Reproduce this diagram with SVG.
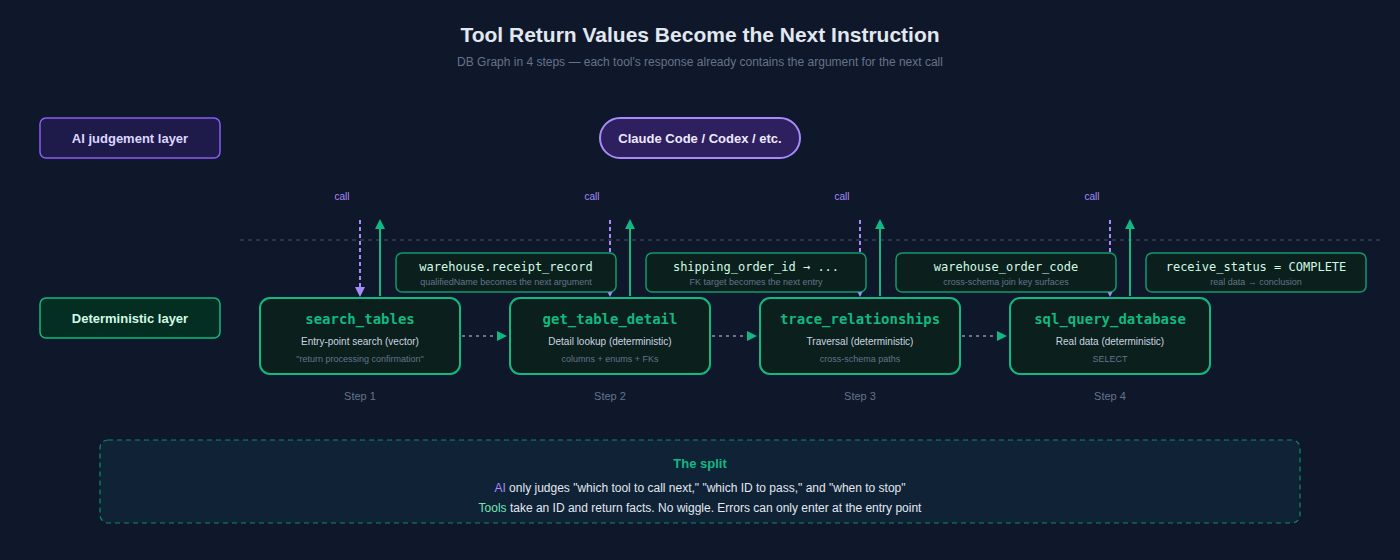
<svg xmlns="http://www.w3.org/2000/svg" width="1400" height="560" viewBox="0 0 1400 560">
<style>
.t{font-family:"Liberation Sans",Arial,sans-serif}
.m{font-family:"DejaVu Sans Mono","Liberation Mono",monospace}
.step{fill:#0b1f1c;stroke:#10b981;stroke-width:2}
.ret{fill:#0b1f1c;stroke:#10b981;stroke-width:1.5;stroke-opacity:.8}
.call{stroke:#a78bfa;stroke-width:2;stroke-dasharray:4 3;fill:none}
.up{stroke:#10b981;stroke-width:2;fill:none}
.flow{stroke:#64748b;stroke-width:2;stroke-dasharray:3 4;fill:none}
</style>
<defs>
<marker id="ap" markerWidth="10" markerHeight="10" refX="5" refY="5" orient="auto" markerUnits="userSpaceOnUse"><path d="M0,0 L10,5 L0,10 z" fill="#a78bfa"/></marker>
<marker id="ag" markerWidth="10" markerHeight="10" refX="5" refY="5" orient="auto" markerUnits="userSpaceOnUse"><path d="M0,0 L10,5 L0,10 z" fill="#10b981"/></marker>
</defs>
<rect width="1400" height="560" fill="#0f172a"/>
<text class="t" x="700" y="42" text-anchor="middle" font-size="21" font-weight="bold" fill="#e2e8f0">Tool Return Values Become the Next Instruction</text>
<text class="t" x="700" y="66" text-anchor="middle" font-size="12" fill="#64748b">DB Graph in 4 steps — each tool's response already contains the argument for the next call</text>
<g id="ai-layer"><rect x="40" y="118" width="180" height="40" rx="6" fill="#1e1b4b" stroke="#8b5cf6" stroke-width="1.5"/><text class="t" x="130" y="143" text-anchor="middle" font-size="13" font-weight="bold" fill="#ddd6fe">AI judgement layer</text></g>
<g id="det-layer"><rect x="40" y="298" width="180" height="40" rx="6" fill="#052e22" stroke="#10b981" stroke-width="1.5"/><text class="t" x="130" y="323" text-anchor="middle" font-size="13" font-weight="bold" fill="#d1fae5">Deterministic layer</text></g>
<g id="claude"><rect x="600" y="118" width="200" height="40" rx="20" fill="#2e1f5e" stroke="#a78bfa" stroke-width="2"/><text class="t" x="700" y="143" text-anchor="middle" font-size="13" font-weight="bold" fill="#ede9fe">Claude Code / Codex / etc.</text></g>
<line x1="240" y1="240" x2="1380" y2="240" stroke="#334155" stroke-width="1.5" stroke-dasharray="4 4"/>
<g id="connectors">
<text class="t" x="342" y="200" text-anchor="middle" font-size="10" fill="#a78bfa">call</text>
<text class="t" x="592" y="200" text-anchor="middle" font-size="10" fill="#a78bfa">call</text>
<text class="t" x="842" y="200" text-anchor="middle" font-size="10" fill="#a78bfa">call</text>
<text class="t" x="1092" y="200" text-anchor="middle" font-size="10" fill="#a78bfa">call</text>
<path class="call" d="M360,220 V292" marker-end="url(#ap)"/>
<path class="call" d="M610,220 V292" marker-end="url(#ap)"/>
<path class="call" d="M860,220 V292" marker-end="url(#ap)"/>
<path class="call" d="M1110,220 V292" marker-end="url(#ap)"/>
<path class="up" d="M380,296 V224" marker-end="url(#ag)"/>
<path class="up" d="M630,296 V224" marker-end="url(#ag)"/>
<path class="up" d="M880,296 V224" marker-end="url(#ag)"/>
<path class="up" d="M1130,296 V224" marker-end="url(#ag)"/>
<path class="flow" d="M462,336 H502" marker-end="url(#ag)"/>
<path class="flow" d="M712,336 H752" marker-end="url(#ag)"/>
<path class="flow" d="M962,336 H1002" marker-end="url(#ag)"/>
</g>
<g id="ret1"><rect class="ret" x="396" y="253" width="220" height="39" rx="6"/><text class="m" x="506" y="271" text-anchor="middle" font-size="12" fill="#d1fae5">warehouse.receipt_record</text><text class="t" x="506" y="285" text-anchor="middle" font-size="9" fill="#64748b">qualifiedName becomes the next argument</text></g>
<g id="ret2"><rect class="ret" x="646" y="253" width="220" height="39" rx="6"/><text class="m" x="756" y="271" text-anchor="middle" font-size="12" fill="#d1fae5">shipping_order_id → ...</text><text class="t" x="756" y="285" text-anchor="middle" font-size="9" fill="#64748b">FK target becomes the next entry</text></g>
<g id="ret3"><rect class="ret" x="896" y="253" width="220" height="39" rx="6"/><text class="m" x="1006" y="271" text-anchor="middle" font-size="12" fill="#d1fae5">warehouse_order_code</text><text class="t" x="1006" y="285" text-anchor="middle" font-size="9" fill="#64748b">cross-schema join key surfaces</text></g>
<g id="ret4"><rect class="ret" x="1146" y="253" width="220" height="39" rx="6"/><text class="m" x="1256" y="271" text-anchor="middle" font-size="12" fill="#d1fae5">receive_status = COMPLETE</text><text class="t" x="1256" y="285" text-anchor="middle" font-size="9" fill="#64748b">real data → conclusion</text></g>
<g id="step1"><rect class="step" x="260" y="298" width="200" height="76" rx="10"/><text class="m" x="360" y="324" text-anchor="middle" font-size="14" font-weight="bold" fill="#10b981">search_tables</text><text class="t" x="360" y="345" text-anchor="middle" font-size="10" fill="#cbd5e1">Entry-point search (vector)</text><text class="t" x="360" y="362" text-anchor="middle" font-size="9" fill="#64748b">"return processing confirmation"</text><text class="t" x="360" y="400" text-anchor="middle" font-size="11" fill="#64748b">Step 1</text></g>
<g id="step2"><rect class="step" x="510" y="298" width="200" height="76" rx="10"/><text class="m" x="610" y="324" text-anchor="middle" font-size="14" font-weight="bold" fill="#10b981">get_table_detail</text><text class="t" x="610" y="345" text-anchor="middle" font-size="10" fill="#cbd5e1">Detail lookup (deterministic)</text><text class="t" x="610" y="362" text-anchor="middle" font-size="9" fill="#64748b">columns + enums + FKs</text><text class="t" x="610" y="400" text-anchor="middle" font-size="11" fill="#64748b">Step 2</text></g>
<g id="step3"><rect class="step" x="760" y="298" width="200" height="76" rx="10"/><text class="m" x="860" y="324" text-anchor="middle" font-size="14" font-weight="bold" fill="#10b981">trace_relationships</text><text class="t" x="860" y="345" text-anchor="middle" font-size="10" fill="#cbd5e1">Traversal (deterministic)</text><text class="t" x="860" y="362" text-anchor="middle" font-size="9" fill="#64748b">cross-schema paths</text><text class="t" x="860" y="400" text-anchor="middle" font-size="11" fill="#64748b">Step 3</text></g>
<g id="step4"><rect class="step" x="1010" y="298" width="200" height="76" rx="10"/><text class="m" x="1110" y="324" text-anchor="middle" font-size="14" font-weight="bold" fill="#10b981">sql_query_database</text><text class="t" x="1110" y="345" text-anchor="middle" font-size="10" fill="#cbd5e1">Real data (deterministic)</text><text class="t" x="1110" y="362" text-anchor="middle" font-size="9" fill="#64748b">SELECT</text><text class="t" x="1110" y="400" text-anchor="middle" font-size="11" fill="#64748b">Step 4</text></g>
<g id="split"><rect x="100" y="440" width="1200" height="83" rx="8" fill="#0f2236" stroke="#10b981" stroke-width="1.2" stroke-dasharray="5 4" stroke-opacity=".7"/>
<text class="t" x="700" y="468" text-anchor="middle" font-size="13" font-weight="bold" fill="#10b981">The split</text>
<text class="t" x="700" y="492" text-anchor="middle" font-size="12" fill="#e2e8f0"><tspan fill="#a78bfa">AI</tspan> only judges "which tool to call next," "which ID to pass," and "when to stop"</text>
<text class="t" x="700" y="512" text-anchor="middle" font-size="12" fill="#e2e8f0"><tspan fill="#6ee7b7">Tools</tspan> take an ID and return facts. No wiggle. Errors can only enter at the entry point</text></g>
</svg>
